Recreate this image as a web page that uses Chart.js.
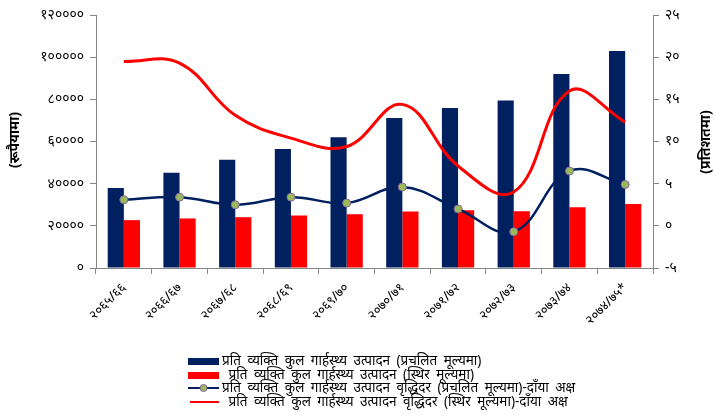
<!DOCTYPE html>
<html>
<head>
<meta charset="utf-8">
<script src="https://cdn.jsdelivr.net/npm/chart.js@4.4.1/dist/chart.umd.min.js"></script>
<style>
  html, body { margin: 0; padding: 0; background: #fff; }
  #wrap { width: 715px; height: 418px; position: relative; }
</style>
</head>
<body>
<div id="wrap"><canvas id="chart"></canvas></div>
<script>
// data
const years = ['२०६५/६६', '२०६६/६७', '२०६७/६८', '२०६८/६९', '२०६९/७०', '२०७०/७१', '२०७१/७२', '२०७२/७३', '२०७३/७४', '२०७४/७५*'];
const gdpCurrent = [38000, 45200, 51300, 56500, 62000, 71200, 75900, 79400, 92000, 102900];
const gdpConstant = [22700, 23500, 24100, 24900, 25500, 26800, 27400, 26900, 28800, 30400];
const growthCurrent = [3.1, 3.4, 2.5, 3.4, 2.7, 4.6, 2.0, -0.7, 6.5, 4.9];
const growthConstant = [19.5, 19.3, 13.1, 10.4, 9.4, 14.4, 7.1, 4.0, 16.0, 12.3];
const leftTickLabels = ['०', '२००००', '४००००', '६००००', '८००००', '१०००००', '१२००००'];
const rightTickLabels = ['-५', '०', '५', '१०', '१५', '२०', '२५'];
const seriesNames = [
  'प्रति व्यक्ति कुल गार्हस्थ्य उत्पादन (प्रचलित मूल्यमा)',
  ' प्रति व्यक्ति कुल गार्हस्थ्य उत्पादन (स्थिर मूल्यमा)',
  'प्रति व्यक्ति कुल गार्हस्थ्य उत्पादन वृद्धिदर (प्रचलित मूल्यमा)-दाँया अक्ष',
  ' प्रति व्यक्ति कुल गार्हस्थ्य उत्पादन वृद्धिदर (स्थिर मूल्यमा)-दाँया अक्ष'
];

const FONT = '"Noto Sans", "DejaVu Sans", sans-serif';
const NAVY = '#002060';
const RED = '#FF0000';
const AXIS = '#868686';

const extras = {
  id: 'extras',
  afterDraw(chart) {
    const ctx = chart.ctx;
    ctx.save();
    ctx.fillStyle = '#000';
    ctx.font = 'bold 14px ' + FONT;
    ctx.textAlign = 'center';
    ctx.textBaseline = 'middle';
    // axis titles, both read bottom to top
    ctx.save(); ctx.translate(15, 140); ctx.rotate(-Math.PI / 2); ctx.fillText('(रूपैयामा)', 0, 0); ctx.restore();
    ctx.save(); ctx.translate(706, 142); ctx.rotate(-Math.PI / 2); ctx.fillText('(प्रतिशतमा)', 0, 0); ctx.restore();

    // legend
    ctx.font = '13.5px ' + FONT;
    ctx.textAlign = 'left';
    ctx.wordSpacing = '3px';
    const rows = [361, 375, 388, 402];
    ctx.fillStyle = NAVY; ctx.fillRect(188, rows[0] - 3, 31, 7);
    ctx.fillStyle = RED; ctx.fillRect(188, rows[1] - 3, 31, 7);
    ctx.strokeStyle = NAVY; ctx.lineWidth = 2;
    ctx.beginPath(); ctx.moveTo(188, rows[2]); ctx.lineTo(219, rows[2]); ctx.stroke();
    ctx.beginPath(); ctx.arc(203.5, rows[2], 3.5, 0, Math.PI * 2);
    ctx.fillStyle = '#9BBB59'; ctx.fill(); ctx.strokeStyle = '#8064A2'; ctx.lineWidth = 1; ctx.stroke();
    ctx.strokeStyle = RED; ctx.lineWidth = 2;
    ctx.beginPath(); ctx.moveTo(190, rows[3]); ctx.lineTo(219, rows[3]); ctx.stroke();
    ctx.fillStyle = '#000';
    seriesNames.forEach((t, i) => ctx.fillText(t, 222, rows[i]));
    ctx.restore();
  }
};

new Chart(document.getElementById('chart'), {
  data: {
    labels: years,
    datasets: [
      { type: 'line', label: seriesNames[3], data: growthConstant, yAxisID: 'y1', order: 0,
        borderColor: RED, borderWidth: 3, pointRadius: 0, tension: 0.4, fill: false },
      { type: 'line', label: seriesNames[2], data: growthCurrent, yAxisID: 'y1', order: 0,
        borderColor: NAVY, borderWidth: 2.5, pointRadius: 4, pointBackgroundColor: '#9BBB59',
        pointBorderColor: '#8064A2', pointBorderWidth: 1, tension: 0.4, fill: false },
      { type: 'bar', label: seriesNames[0], data: gdpCurrent, yAxisID: 'y', order: 1,
        backgroundColor: NAVY, categoryPercentage: 0.58, barPercentage: 1 },
      { type: 'bar', label: seriesNames[1], data: gdpConstant, yAxisID: 'y', order: 1,
        backgroundColor: RED, categoryPercentage: 0.58, barPercentage: 1 }
    ]
  },
  options: {
    responsive: true,
    maintainAspectRatio: false,
    animation: false,
    layout: { padding: { top: 15, left: 0, right: 0, bottom: 0 } },
    plugins: { legend: { display: false }, tooltip: { enabled: false } },
    scales: {
      x: {
        grid: { display: true, drawOnChartArea: false, offset: true, color: AXIS, tickLength: 6 },
        border: { color: AXIS },
        ticks: { color: '#000', font: { family: FONT, size: 13 }, maxRotation: 45, minRotation: 45, padding: 6 },
        afterFit(s) { s.height = 150; }
      },
      y: {
        position: 'left', min: 0, max: 120000,
        grid: { display: true, drawOnChartArea: false, color: AXIS, tickLength: 6 },
        border: { color: AXIS },
        ticks: { stepSize: 20000, color: '#000', font: { family: FONT, size: 14 }, padding: 6,
          callback: (v, i) => leftTickLabels[i] },
        afterFit(s) { s.width = 96; }
      },
      y1: {
        position: 'right', min: -5, max: 25,
        grid: { display: true, drawOnChartArea: false, color: AXIS, tickLength: 6 },
        border: { color: AXIS },
        ticks: { stepSize: 5, color: '#000', font: { family: FONT, size: 14 }, padding: 6,
          callback: (v, i) => rightTickLabels[i] },
        afterFit(s) { s.width = 62; }
      }
    }
  },
  plugins: [extras]
});
</script>
</body>
</html>
